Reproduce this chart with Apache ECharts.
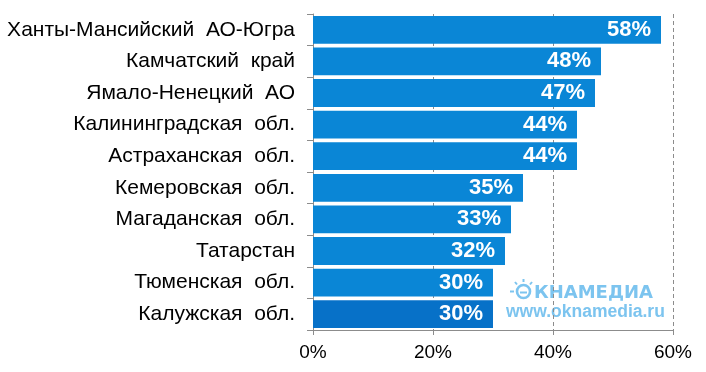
<!DOCTYPE html>
<html><head><meta charset="utf-8">
<script src="https://cdn.jsdelivr.net/npm/echarts@6/dist/echarts.min.js"></script>
<style>html,body{margin:0;padding:0;background:#fff}#c{width:706px;height:372px}</style>
</head><body><div id="c"></div>
<script>
const categories = ["Ханты-Мансийский  АО-Югра","Камчатский  край","Ямало-Ненецкий  АО","Калининградская  обл.","Астраханская  обл.","Кемеровская  обл.","Магаданская  обл.","Татарстан","Тюменская  обл.","Калужская  обл."];
const values = [58,48,47,44,44,35,33,32,30,30];
const xTicks = [0,20,40,60];

const chart = echarts.init(document.getElementById('c'), null, {renderer:'canvas'});
const font = '"Liberation Sans", Arial, sans-serif';
const wm = '#7cc4ef';
chart.setOption({
  animation:false,
  grid:{left:313,right:33,top:14,bottom:42,containLabel:false},
  xAxis:{type:'value',min:xTicks[0],max:xTicks[xTicks.length-1],interval:20,
    axisLine:{show:true,lineStyle:{color:'#8c8c8c',width:1}},
    axisTick:{show:true,length:5,inside:false,lineStyle:{color:'#8c8c8c'}},
    axisLabel:{color:'#000',fontSize:19,fontFamily:font,margin:13,formatter:v=>v+'%'},
    splitLine:{show:true,lineStyle:{color:'#8c8c8c',type:[4,3],width:1}}
  },
  yAxis:{type:'category',data:categories,inverse:true,
    axisLine:{show:true,lineStyle:{color:'#8c8c8c'}},
    axisTick:{show:true,length:6,lineStyle:{color:'#8c8c8c'}},
    axisLabel:{color:'#000',fontSize:21,fontFamily:font,margin:18}
  },
  series:[{type:'bar',data:values.map((v,i)=>({value:v,itemStyle:{color:i===values.length-1?'#0771c8':'#0a86d6'}})),
    barCategoryGap:'12%',
    label:{show:true,position:'insideRight',distance:10,color:'#fff',fontWeight:'bold',fontSize:22,fontFamily:font,formatter:p=>p.value+'%'}
  }],
  graphic:[
    {type:'circle',shape:{cx:523.5,cy:291.5,r:6.5},style:{fill:'none',stroke:wm,lineWidth:2.6}},
    {type:'line',shape:{x1:520,y1:292.5,x2:527,y2:292.5},style:{stroke:wm,lineWidth:2}},
    {type:'text',left:534,top:284,style:{text:'КНАМЕДИА',fill:wm,font:'bold 18px "DejaVu Sans", sans-serif'}},
    {type:'text',left:506,top:303,style:{text:'www.oknamedia.ru',fill:wm,font:'bold 17.5px '+font}},
    {type:'line',shape:{x1:510,y1:291.5,x2:514,y2:291.5},style:{stroke:wm,lineWidth:2}},
    {type:'line',shape:{x1:523.5,y1:279,x2:523.5,y2:282},style:{stroke:wm,lineWidth:2}},
    {type:'line',shape:{x1:515,y1:282,x2:517,y2:284.5},style:{stroke:wm,lineWidth:2}},
    {type:'line',shape:{x1:532,y1:282,x2:530,y2:284.5},style:{stroke:wm,lineWidth:2}}
  ]
});
</script></body></html>
